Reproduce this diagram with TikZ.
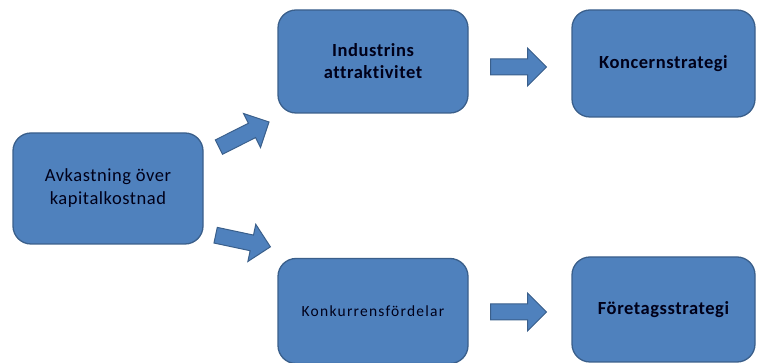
\documentclass[tikz,border=0pt]{standalone}
\usepackage{fontspec}
\setmainfont{Carlito}[LetterSpace=3,Ligatures=NoCommon]
\usetikzlibrary{shapes.arrows}
\definecolor{boxblue}{HTML}{4F81BD}
\definecolor{boxedge}{HTML}{3A5F8B}

\begin{document}
\begin{tikzpicture}[x=1pt,y=1pt,
  block/.style={draw=boxedge,fill=boxblue,line width=1.3pt,rounded corners=18pt,
    align=center,text=black!90!blue},
  fat/.style={single arrow,draw=boxedge,fill=boxblue,line width=1pt,
    minimum height=56pt,inner xsep=0pt,inner ysep=7.5pt,single arrow head extend=11pt}]
  \useasboundingbox (0,0) rectangle (757,363);

  % left box
  \node[block,minimum width=190pt,minimum height=111pt,
    font=\fontsize{18.5}{23}\selectfont] (ret) at (108,174.5)
    {Avkastning över\\kapitalkostnad};

  % middle column
  \node[block,minimum width=190pt,minimum height=103pt,
    font=\bfseries\fontsize{18.5}{22}\selectfont] (ind) at (373,301.5)
    {Industrins\\attraktivitet};
  \node[block,minimum width=190pt,minimum height=105pt,
    font=\fontsize{15.5}{18}\selectfont\addfontfeature{LetterSpace=8}] (konk) at (373,52)
    {Konkurrensfördelar};

  % right column
  \node[block,minimum width=183pt,minimum height=107pt,
    font=\bfseries\fontsize{18.5}{22}\selectfont] (konc) at (663.5,299.5)
    {Koncernstrategi};
  \node[block,minimum width=183pt,minimum height=105pt,
    font=\bfseries\fontsize{18.5}{22}\selectfont] (foret) at (663.5,53.5)
    {Företagsstrategi};

  % block arrows
  \foreach \i/\pos/\ang in {1/{(240.4,226.7)}/26.6, 2/{(239.1,122.8)}/-12,
                            3/{(514.5,296)}/0, 4/{(514.5,51)}/0}{
    \node[fat,rotate=\ang] (arr\i) at \pos {};
  }
\end{tikzpicture}
\end{document}
